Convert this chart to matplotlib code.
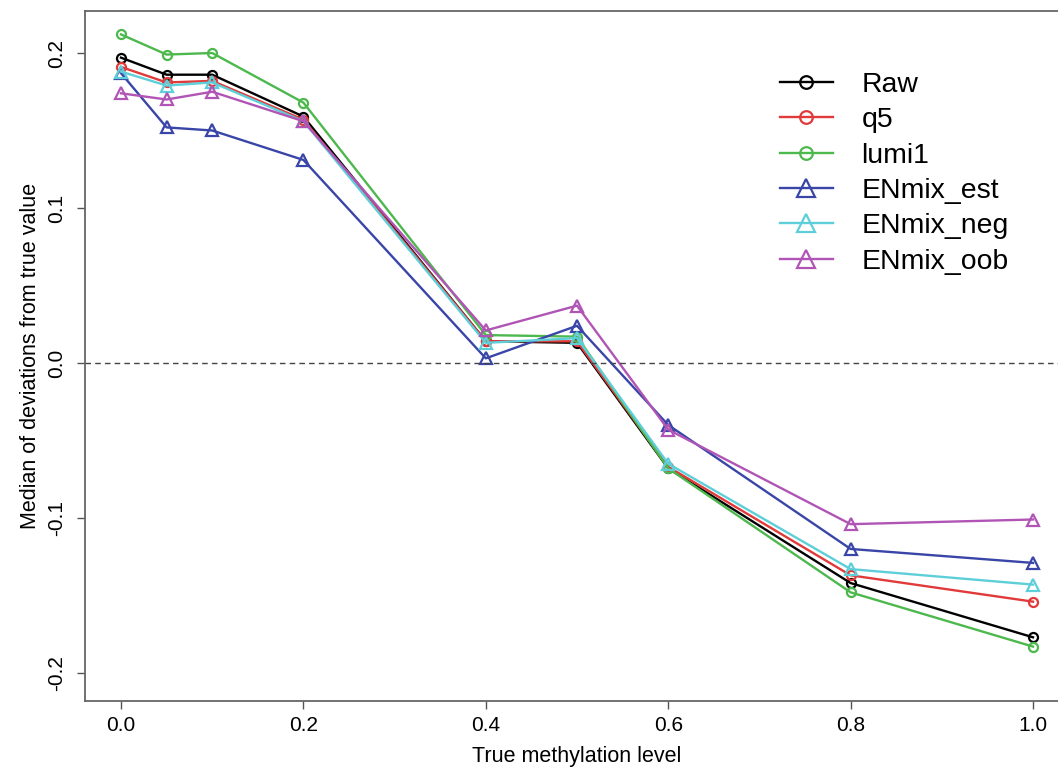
import numpy as np
import matplotlib
matplotlib.use("Agg")
import matplotlib.pyplot as plt

plt.rcParams['font.family'] = ['Liberation Sans', 'DejaVu Sans']

# true methylation levels
levels = [0.0, 0.05, 0.1, 0.2, 0.4, 0.5, 0.6, 0.8, 1.0]

raw = [0.197, 0.186, 0.186, 0.159, 0.014, 0.013, -0.068, -0.142, -0.177]
q5 = [0.191, 0.181, 0.182, 0.157, 0.014, 0.014, -0.067, -0.137, -0.154]
lumi1 = [0.212, 0.199, 0.200, 0.168, 0.018, 0.017, -0.068, -0.148, -0.183]
enmix_est = [0.187, 0.152, 0.150, 0.131, 0.003, 0.024, -0.040, -0.120, -0.129]
enmix_neg = [0.188, 0.179, 0.181, 0.156, 0.013, 0.016, -0.065, -0.133, -0.143]
enmix_oob = [0.174, 0.170, 0.175, 0.156, 0.021, 0.037, -0.043, -0.104, -0.101]

names = ["Raw", "q5", "lumi1", "ENmix_est", "ENmix_neg", "ENmix_oob"]
series = [raw, q5, lumi1, enmix_est, enmix_neg, enmix_oob]
colors = ["black", "#E03A3A", "#4DB84D", "#3A45A8", "#5ECFD9", "#B055B5"]
markers = ["o", "o", "o", "^", "^", "^"]
msizes = [6.5, 6.5, 6.5, 9, 9, 9]

fig = plt.figure(figsize=(10.58, 7.7), dpi=100)
# plot region runs past the right edge of the picture (cropped like the original)
ax = fig.add_axes([84.5 / 1058, 1 - 701 / 770, 985 / 1058, 690 / 770])

for vals, name, c, m, ms in zip(series, names, colors, markers, msizes):
    ax.plot(levels, vals, color=c, lw=1.7, marker=m, ms=ms, mfc="none",
            mec=c, mew=1.6, label=name)

ax.axhline(0, color="#444444", lw=1.0, ls=(0, (4, 3)))

ax.set_xlim(-0.04, 1.04)
ax.set_ylim(-0.2181, 0.2271)
ax.set_xticks([0.0, 0.2, 0.4, 0.6, 0.8, 1.0])
ax.set_xticklabels(["0.0", "0.2", "0.4", "0.6", "0.8", "1.0"])
ax.set_yticks([-0.2, -0.1, 0.0, 0.1, 0.2])
ax.set_yticklabels(["-0.2", "-0.1", "0.0", "0.1", "0.2"], rotation=90, va="center")
ax.tick_params(direction="out", length=6, width=1, labelsize=15, color="#555555")
ax.tick_params(axis="x", pad=5)
ax.tick_params(axis="y", pad=7)
for s in ax.spines.values():
    s.set_color("#666666")
    s.set_linewidth(1.3)

ax.set_xlabel("True methylation level", fontsize=15.5)
ax.set_ylabel("Median of deviations from true value", fontsize=15.5)
ax.xaxis.set_label_coords(0.5, -0.0652)
ax.yaxis.set_label_coords(-0.0442, 0.5)

leg = ax.legend(loc="upper left", bbox_to_anchor=(780 / 1058, 1 - 72 / 770),
                bbox_transform=fig.transFigure, frameon=False, borderpad=0,
                borderaxespad=0, fontsize=20.4, handlelength=1.87,
                labelspacing=0.33, markerscale=1.4, handletextpad=1.0)

fig.savefig("out.png", dpi=100)
